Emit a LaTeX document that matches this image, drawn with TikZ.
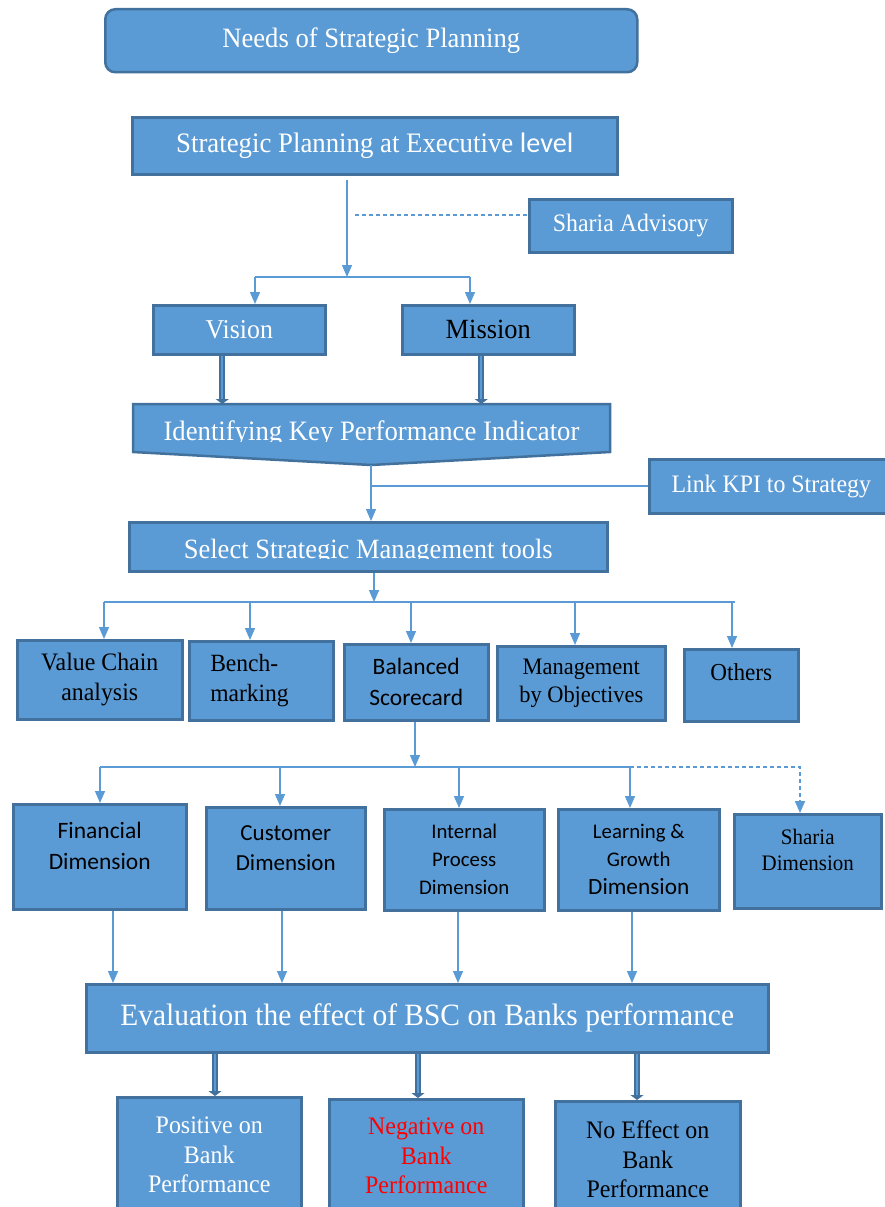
\documentclass[tikz,border=0pt]{standalone}
\usepackage{fontspec}
\setmainfont{Liberation Serif}[FakeStretch=0.95]
\newfontfamily\calfont{Carlito}
\usetikzlibrary{arrows.meta,backgrounds}

\definecolor{boxfill}{HTML}{5B9BD5}
\definecolor{boxline}{HTML}{41719C}
\definecolor{negred}{HTML}{FF0000}

\newcommand\fs[2]{\fontsize{#1}{#2}\selectfont}
% box given by its corners: [options]{x1}{y1}{x2}{y2}{name}
\newcommand\boxnode[6][]{\node[box,anchor=north west,minimum width=#4-#2,minimum height=#5-#3,#1] (#6) at (#2,#3)}

\tikzset{
  box/.style={draw=boxline, line width=2.5pt, fill=boxfill, inner sep=2pt, align=center, text=white},
  bare/.style={draw=none, fill=none, inner sep=0pt, outer sep=0pt, text=white},
  dark/.style={text=black},
  conn/.style={draw=boxfill, line width=1.3pt},
  tip/.style={-{Triangle[length=12pt,width=10pt]}},
  fat/.style={draw=boxline, line width=2.1pt, double=boxfill, double distance=2.2pt,
              -{Triangle[length=5pt,width=13pt]}},
  dashline/.style={dash pattern=on 4pt off 3pt},
}

\begin{document}
\begin{tikzpicture}[x=1pt,y=-1pt]
\useasboundingbox (0,0) rectangle (885,1207);
\begin{pgfonlayer}{background}
  \fill[white] (0,0) rectangle (885,1207);
\end{pgfonlayer}
\clip (0,0) rectangle (885,1207);

% ---------- top part ----------
\boxnode[rounded corners=10pt, font=\fs{28}{31}]{104}{8}{636}{71}{need} {Needs of Strategic Planning};
\boxnode[font=\fs{28.2}{31}]{131}{116}{616}{173}{sp} {Strategic Planning at Executive {\calfont level}};
\boxnode[font=\fs{25.1}{28}]{528}{198}{731}{251}{sa} {Sharia Advisory};
\boxnode[font=\fs{27.2}{30}]{152}{304}{324}{353}{vision} {Vision};
\boxnode[font=\fs{27.8}{30}, dark]{401}{304}{573}{353}{mission} {Mission};

% KPI block with a pointed base; its caption is cut at the baseline
\coordinate (kpitip) at (371,465);
\filldraw[draw=boxline, fill=boxfill, line width=2.5pt, line join=miter]
  (133,404) -- (610,404) -- (610,452) -- (kpitip) -- (133,452) -- cycle;
\begin{scope}
  \clip (133,404) rectangle (610,441.8);
  \node[bare, font=\fs{28.1}{30}, anchor=north west, minimum width=477, minimum height=48,
        text height=24pt, text depth=0pt] (kpi) at (133,404) {Identifying Key Performance Indicator};
\end{scope}

\boxnode[font=\fs{25.1}{28}]{648}{458}{892}{512}{link} {Link KPI to Strategy};
\boxnode{128}{521}{606}{570}{select} {};
\begin{scope}
  \clip (128,521) rectangle (606,558.6);
  \node[bare, font=\fs{27.9}{30}, minimum width=478, minimum height=49,
        text height=23.6pt, text depth=0pt] (selecttext) at (select) {Select Strategic Management tools};
\end{scope}

% ---------- tools ----------
\boxnode[font=\fs{25.1}{30}, dark]{16}{639}{181}{718}{vc} {Value Chain\\analysis};
\boxnode[font=\fs{24.8}{30}, dark, text width=102, align=left]{188}{640}{332}{719}{bench} {Bench-\\marking};
\boxnode[font={\calfont\fs{23.5}{31}}, dark]{343}{643}{487}{719}{bsc} {Balanced\\Scorecard};
\boxnode[font=\fs{23.6}{28}, dark]{496}{645}{664}{719}{mbo} {Management\\by Objectives};
\boxnode[font=\fs{24.4}{29}, dark, text depth=26pt]{683}{648}{797}{720}{oth} {Others};

% ---------- dimensions ----------
\boxnode[font={\calfont\fs{23.5}{31}}, dark, text depth=22pt]{12}{803}{185}{908}{fin} {Financial\\Dimension};
\boxnode[font={\calfont\fs{23}{30}}, dark, text depth=21pt]{205}{806}{364}{908}{cus} {Customer\\Dimension};
\boxnode[font={\calfont\fs{20.8}{28}}, dark]{383}{808}{543}{909}{ipd} {Internal\\Process\\Dimension};
\boxnode[font={\calfont\fs{20.8}{28}}, dark]{557}{808}{718}{909}{lgd} {Learning \&\\Growth\\{\fs{23.3}{28}Dimension}};
\boxnode[font=\fs{22.1}{26}, dark, text depth=22pt]{733}{813}{880}{907}{shd} {Sharia\\Dimension};

% ---------- evaluation and outcomes ----------
\boxnode[font=\fs{31}{34}]{85}{983}{767}{1051}{eval} {Evaluation the effect of BSC on Banks performance};
\boxnode[font=\fs{25.2}{29.5}]{116}{1096}{300}{1212}{pos} {Positive on\\Bank\\Performance};
\boxnode[font=\fs{25.2}{29.5}, text=negred]{328}{1098}{522}{1212}{neg} {Negative on\\Bank\\Performance};
\boxnode[font=\fs{25.2}{29.5}, dark]{554}{1100}{739}{1216}{noe} {No Effect on\\Bank\\Performance};

% ---------- connectors: top ----------
\coordinate (j1) at (347,277);
\coordinate (j1l) at (255,277);
\coordinate (j1r) at (470,277);
\coordinate (d1) at (355,215);
\draw[conn, tip, shorten <=4pt] (sp.south -| j1) -- (j1);
\draw[conn] (j1l) -- (j1r);
\draw[conn, tip] (j1l) -- (vision.north -| j1l);
\draw[conn, tip] (j1r) -- (mission.north -| j1r);
\draw[conn, dashline, line width=1.1pt] (d1) -- (sa.west |- d1);

\coordinate (v1) at ([xshift=-17pt]vision.south);
\coordinate (m1) at ([xshift=-7pt]mission.south);
\draw[fat] (v1) -- (v1 |- kpi.north);
\draw[fat] (m1) -- (m1 |- kpi.north);

\coordinate (j2) at (371,486);
\draw[conn, tip] (kpitip) -- (select.north -| kpitip);
\draw[conn] (j2) -- (link.west |- j2);

% ---------- connectors: tools ----------
\coordinate (sj) at (374,602);
\coordinate (s1) at (104,602);
\coordinate (s2) at (250,602);
\coordinate (s3) at (411,602);
\coordinate (s4) at (575,602);
\coordinate (s5) at (732,602);
\coordinate (send) at (735,602);
\draw[conn, tip] (select.south -| sj) -- (sj);
\draw[conn] (s1) -- (send);
\draw[conn, tip] (s1) -- (vc.north -| s1);
\draw[conn, tip] (s2) -- (bench.north -| s2);
\draw[conn, tip] (s3) -- (bsc.north -| s3);
\draw[conn, tip] (s4) -- (mbo.north -| s4);
\draw[conn, tip] (s5) -- (oth.north -| s5);

% ---------- connectors: dimensions ----------
\coordinate (cj) at (415,767);
\coordinate (c1) at (100,767);
\coordinate (c2) at (280,767);
\coordinate (c3) at (459,767);
\coordinate (c4) at (630,767);
\coordinate (c5) at (800,767);
\draw[conn, tip] (bsc.south -| cj) -- (cj);
\draw[conn] (c1) -- (c4);
\draw[conn, tip] (c1) -- (fin.north -| c1);
\draw[conn, tip] (c2) -- (cus.north -| c2);
\draw[conn, tip] (c3) -- (ipd.north -| c3);
\draw[conn, tip] (c4) -- (lgd.north -| c4);
\draw[conn, dashline, line width=1.8pt, tip] (c4) -- (c5) -- (shd.north -| c5);

% ---------- connectors: evaluation ----------
\coordinate (e1) at (113,0);
\coordinate (e2) at (282,0);
\coordinate (e3) at (458,0);
\coordinate (e4) at (632,0);
\draw[conn, tip] (fin.south -| e1) -- (eval.north -| e1);
\draw[conn, tip] (cus.south -| e2) -- (eval.north -| e2);
\draw[conn, tip] (ipd.south -| e3) -- (eval.north -| e3);
\draw[conn, tip] (lgd.south -| e4) -- (eval.north -| e4);

\coordinate (o1) at (215,0);
\coordinate (o2) at (418,0);
\coordinate (o3) at (637,0);
\draw[fat] (eval.south -| o1) -- (pos.north -| o1);
\draw[fat] (eval.south -| o2) -- (neg.north -| o2);
\draw[fat] (eval.south -| o3) -- (noe.north -| o3);
\end{tikzpicture}
\end{document}
